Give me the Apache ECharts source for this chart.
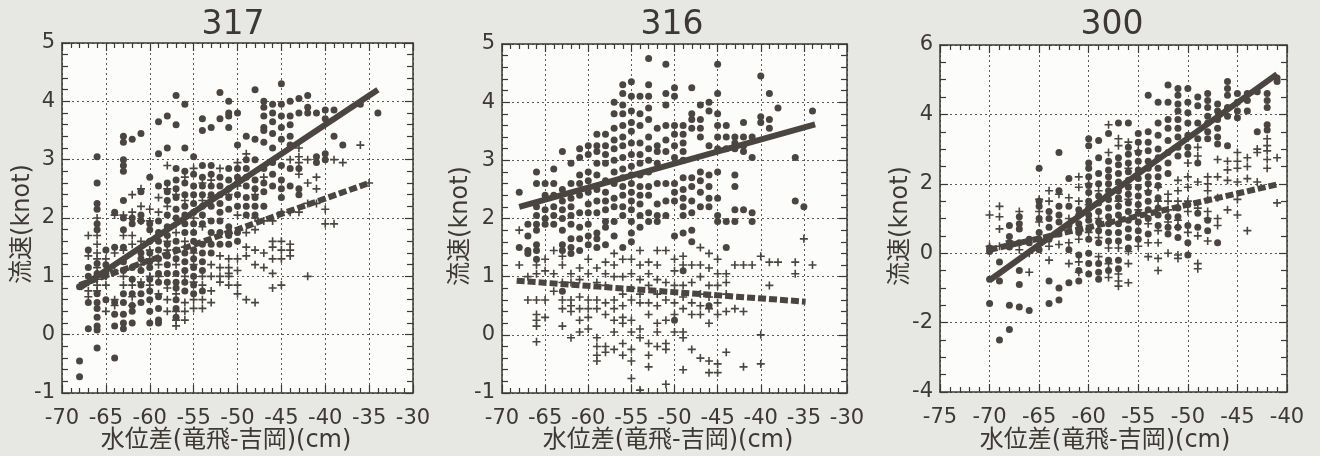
<!DOCTYPE html>
<html><head><meta charset="utf-8">
<script src="https://cdn.jsdelivr.net/npm/echarts@6/dist/echarts.min.js"></script>
<style>html,body{margin:0;padding:0;background:#e7e8e3;} #c{width:1320px;height:456px;}</style>
</head><body><div id="c"></div>
<script>
// ---------- text ----------
const titles = ['317', '316', '300'];
const xName = '水位差(竜飛-吉岡)(cm)';
const yName = '流速(knot)';

// ---------- axis ranges ----------
const xRange12 = [-70, -30, 5];
const yRange12 = [-1, 5, 1];
const xRange3 = [-75, -40, 5];
const yRange3 = [-4, 6, 2];

// ---------- 317 : columns [x, [y...]] ----------
const p317DotCols = [
  [-68, [0.82, -0.45, -0.72]],
  [-67, [1.45, 1.15, 1.0, 0.55, 0.1]],
  [-66, [3.05, 2.6, 2.25, 2.15, 1.9, 1.8, 1.22, 1.05, 0.7, 0.55, 0.45, 0.3, 0.15, 0.08, -0.23]],
  [-65, [1.45, 1.2, 1.05, 0.6]],
  [-64, [2.1, 1.5, 0.55, 0.35, 0.15, -0.4]],
  [-63, [3.4, 3.3, 3.0, 2.9, 2.8, 2.3, 2.0, 1.8, 1.5, 1.25, 1.1, 0.7, 0.55, 0.35, 0.2, 0.1]],
  [-62, [3.35, 2.0, 1.9, 1.15, 0.95, 0.7, 0.5, 0.4, 0.2]],
  [-61, [3.45, 2.45, 2.05, 1.95, 1.4, 1.3, 1.1, 0.85, 0.7, 0.55]],
  [-60, [2.7, 1.9, 1.8, 1.6, 1.4, 1.25, 1.15, 0.95, 0.75, 0.6, 0.4, 0.2]],
  [-59, [3.65, 3.1, 2.55, 1.95, 1.75, 1.6, 1.45, 1.3, 1.05, 0.9, 0.65, 0.45, 0.25, 0.2]],
  [-58, [3.75, 3.2, 2.6, 2.45, 2.3, 2.05, 1.85, 1.7, 1.55, 1.35, 1.2, 1.05, 0.9]],
  [-57, [4.1, 3.6, 2.85, 2.65, 2.5, 2.35, 2.15, 2.0, 1.6, 1.45, 1.3, 1.05, 0.9, 0.8, 0.6, 0.45, 0.3]],
  [-56, [3.95, 3.2, 2.8, 2.6, 2.4, 2.2, 2.05, 1.9, 1.75, 1.4, 1.25, 1.1, 0.9, 0.75]],
  [-55, [3.05, 2.75, 2.55, 2.4, 2.25, 2.1, 1.9, 1.75, 1.6, 1.45, 1.3, 1.15, 1.0, 0.85, 0.7]],
  [-54, [3.7, 3.5, 2.9, 2.7, 2.55, 2.4, 2.2, 2.05, 1.9, 1.55, 1.4, 1.25, 1.1, 0.75]],
  [-53, [3.55, 2.9, 2.75, 2.55, 2.4, 2.2, 1.95, 1.75, 1.55, 1.4]],
  [-52, [4.15, 3.7, 2.7, 2.55, 2.4, 2.25, 2.1, 1.95, 1.75, 1.55]],
  [-51, [4.0, 3.8, 3.75, 3.55, 2.85, 2.65, 2.5, 2.35, 2.15, 1.85, 1.7, 1.55]],
  [-50, [3.8, 3.25, 2.85, 2.7, 2.6, 2.4, 2.2, 1.75, 1.6]],
  [-49, [3.4, 3.0, 2.85, 2.7, 2.55, 2.35, 2.2, 2.05]],
  [-48, [4.2, 3.35, 3.0, 2.65, 2.5, 2.35, 2.2, 2.05]],
  [-47, [4.0, 3.9, 3.75, 3.55, 3.5, 3.3, 2.85, 2.6, 2.45, 2.2]],
  [-46, [3.95, 3.8, 3.65, 3.45, 3.2, 2.95, 2.75, 2.55]],
  [-45, [4.3, 3.95, 3.75, 3.55, 3.35, 2.9, 2.65, 2.5, 2.35]],
  [-44, [4.0, 3.75, 3.6, 3.4, 3.25, 2.85, 2.55]],
  [-43, [4.05, 3.8, 2.85, 2.5, 2.4]],
  [-42, [4.1, 3.9, 3.8]],
  [-41, [3.8, 3.05, 2.95]],
  [-40, [3.85, 3.7, 3.1, 3.0]],
  [-39, [3.85, 3.4]],
  [-38, [3.25]],
  [-36, [3.95]],
  [-34, [3.8]]
];
const p317PlusCols = [
  [-67, [1.7, 1.35, 0.9, 0.75, 0.65]],
  [-66, [2.0, 1.7, 1.55, 1.4, 1.3, 1.15, 0.95, 0.85, 0.75]],
  [-65, [1.3, 1.0, 0.85, 0.4]],
  [-64, [2.05, 1.4, 1.1, 0.6, 0.5]],
  [-63, [2.05, 1.7, 1.45, 1.0, 0.85]],
  [-62, [2.4, 2.1, 1.7, 1.55, 0.85, 0.65, 0.5]],
  [-61, [2.5, 2.2, 1.95, 1.6, 1.2, 0.9]],
  [-60, [2.15, 1.95, 1.45, 1.3, 1.0, 0.85]],
  [-59, [2.35, 2.1, 1.7, 1.2, 1.0, 0.7]],
  [-58, [2.9, 2.5, 2.2, 1.6, 1.45, 0.8, 0.6, 0.4]],
  [-57, [2.4, 1.9, 1.75, 1.2, 0.7, 0.4, 0.25, 0.15]],
  [-56, [2.7, 2.3, 1.6, 1.5, 1.0, 0.55, 0.4, 0.25]],
  [-55, [2.85, 2.0, 1.4, 1.2, 0.9, 0.6, 0.45]],
  [-54, [2.6, 2.3, 1.85, 1.0, 0.85, 0.6, 0.45]],
  [-53, [2.65, 2.35, 1.2, 1.0, 0.75, 0.55]],
  [-52, [2.85, 1.35, 1.15, 1.0, 0.9]],
  [-51, [2.4, 1.3, 1.15, 1.05, 1.0, 0.85]],
  [-50, [2.95, 2.55, 2.05, 1.3, 1.1, 0.85, 0.7]],
  [-49, [3.1, 1.75, 1.5, 1.35, 0.6]],
  [-48, [2.4, 2.0, 1.8, 1.45, 1.2, 0.55]],
  [-47, [2.7, 1.95, 1.4, 1.15]],
  [-46, [1.95, 1.6, 1.5, 1.3, 1.05, 0.8]],
  [-45, [2.1, 1.6, 1.45, 1.3, 0.85]],
  [-44, [3.0, 2.1, 1.55, 1.45, 1.35]],
  [-43, [3.2, 3.05, 2.95, 2.75, 2.1]],
  [-42, [3.0, 2.6, 2.25, 1.0]],
  [-41, [2.7, 2.5, 2.25]],
  [-40, [2.15, 1.9]],
  [-39, [3.0, 1.9]],
  [-38, [2.95]],
  [-36, [3.25]],
  [-35, [2.6]]
];
const p317SolidLine = [[-68, 0.8], [-34, 4.2]];
const p317DashLine = [[-68, 0.85], [-35, 2.6]];

// ---------- 316 ----------
const p316DotCols = [
  [-68, [2.45, 1.5]],
  [-67, [1.9, 1.7, 1.45, 1.4]],
  [-66, [2.8, 2.6, 2.2, 2.05, 1.9, 1.8, 1.55, 1.45, 1.3]],
  [-65, [2.6, 2.4, 2.15, 2.0, 1.9]],
  [-64, [2.85, 2.6, 2.4, 2.2, 2.05, 1.9]],
  [-63, [3.15, 2.5, 2.3, 2.15, 2.0, 1.8, 1.55, 1.45, 0.75]],
  [-62, [2.95, 2.6, 2.35, 2.2, 2.05, 1.9, 1.65, 1.5, 1.4]],
  [-61, [3.2, 3.05, 2.75, 2.6, 2.4, 2.1, 1.85, 1.65, 1.45]],
  [-60, [3.25, 3.1, 2.8, 2.65, 2.45, 2.25, 2.1, 1.9, 1.7, 1.55]],
  [-59, [3.45, 3.25, 3.15, 2.95, 2.75, 2.5, 2.3, 2.1, 1.75, 1.65, 1.5]],
  [-58, [3.45, 3.25, 3.1, 2.95, 2.65, 2.45, 2.3, 2.15, 1.95, 1.85, 1.55]],
  [-57, [4.0, 3.8, 3.55, 3.35, 3.2, 3.0, 2.8, 2.6, 2.35, 2.2, 1.95, 1.7]],
  [-56, [4.3, 4.15, 3.95, 3.8, 3.6, 3.4, 3.25, 3.05, 2.85, 2.7, 2.55, 2.4, 2.2, 2.05, 1.5]],
  [-55, [4.35, 4.1, 3.85, 3.65, 3.5, 3.3, 3.1, 2.9, 2.75, 2.6, 2.45, 2.3, 2.15, 1.95, 1.75, 1.6]],
  [-54, [4.1, 3.8, 3.6, 3.3, 3.1, 2.95, 2.75, 2.55, 2.4, 2.25, 2.05, 1.85]],
  [-53, [4.75, 4.3, 4.1, 3.9, 3.7, 3.4, 3.2, 3.0, 2.8, 2.55, 2.4, 2.1, 1.95]],
  [-52, [3.55, 3.25, 3.15, 2.95, 2.6, 2.25, 2.05, 1.95]],
  [-51, [4.65, 4.15, 3.95, 3.6, 3.35, 3.15, 2.6, 2.3, 2.05]],
  [-50, [4.25, 4.1, 3.6, 3.45, 3.25, 3.05, 2.6, 2.45, 2.3, 1.7, 0.25]],
  [-49, [3.6, 3.45, 3.3, 3.15, 3.0, 2.7, 2.5, 2.35, 2.2, 2.05, 1.75, 1.1]],
  [-48, [4.25, 3.8, 3.7, 3.55, 2.7, 2.55, 2.3, 2.1, 1.8, 1.6]],
  [-47, [3.95, 3.7, 3.55, 3.4, 2.8, 2.65, 2.45, 2.2]],
  [-46, [4.0, 3.85, 3.25, 2.75, 2.55, 2.35, 2.2, 0.5]],
  [-45, [4.65, 4.15, 3.8, 3.6, 3.4, 3.2, 2.8, 2.35, 2.05, 1.95]],
  [-44, [3.6, 3.4, 3.2, 1.95, 1.5]],
  [-43, [3.4, 3.3, 3.2, 2.75, 2.55, 2.15, 1.95]],
  [-42, [3.65, 3.4, 3.25, 3.15, 2.15]],
  [-41, [3.4, 3.05, 2.1, 1.95]],
  [-40, [4.45, 3.75, 3.65]],
  [-39, [4.15, 3.7, 3.55]],
  [-38, [3.9]],
  [-36, [3.05, 2.3]],
  [-35, [2.2]],
  [-34, [3.85]]
];
const p316PlusCols = [
  [-68, [1.8, 1.2]],
  [-67, [1.0, 0.6]],
  [-66, [1.2, 1.05, 0.6, 0.35, 0.25, 0.15, -0.12]],
  [-65, [1.3, 1.1, 0.6, 0.3]],
  [-64, [1.45, 1.05, 0.75]],
  [-63, [1.35, 1.2, 0.9, 0.6, 0.45, 0.15]],
  [-62, [1.05, 0.9, 0.6, 0.5, 0.4, -0.05]],
  [-61, [1.15, 0.95, 0.65, 0.45, 0.25, 0.05]],
  [-60, [1.3, 1.05, 0.6, 0.45, 0.3, 0.1]],
  [-59, [1.15, 0.9, 0.6, 0.45, -0.05, -0.2, -0.35, -0.45]],
  [-58, [1.25, 1.05, 0.85, 0.55, 0.35, -0.2, -0.3]],
  [-57, [1.4, 1.2, 1.0, 0.6, 0.45, 0.25, 0.05, -0.25]],
  [-56, [1.3, 1.0, 0.7, 0.5, 0.3, 0.2, -0.15, -0.35]],
  [-55, [1.3, 1.05, 0.8, 0.6, 0.25, 0.05, -0.25, -0.45, -0.75]],
  [-54, [1.45, 1.2, 0.95, 0.7, 0.55, 0.1, -0.05, -0.95]],
  [-53, [1.25, 1.05, 0.85, 0.55, 0.35, -0.15, -0.35, -0.55]],
  [-52, [1.45, 1.2, 0.95, 0.7, 0.5, 0.2, 0.05, -0.2]],
  [-51, [1.45, 0.9, 0.6, 0.25, -0.15, -0.25, -0.85]],
  [-50, [1.3, 1.1, 0.85, 0.55, 0.35, 0.05]],
  [-49, [1.35, 1.2, 0.85, 0.65, 0.45, 0.05, -0.05, -0.6]],
  [-48, [1.2, 0.9, 0.55, 0.35, -0.25]],
  [-47, [1.5, 1.2, 1.0, 0.7, 0.5, 0.35, -0.4]],
  [-46, [1.4, 1.15, 0.85, 0.65, 0.45, 0.2, -0.45, -0.65]],
  [-45, [1.3, 1.05, 0.85, 0.55, 0.35, -0.5, -0.65]],
  [-44, [1.05, 0.9, 0.7, 0.4, -0.3]],
  [-43, [1.2, 0.45]],
  [-42, [1.2, 0.4, -0.55]],
  [-41, [1.2]],
  [-40, [1.35, 0.0, -0.5]],
  [-39, [1.25, 0.85]],
  [-38, [1.25]],
  [-36, [1.25, 1.05]],
  [-35, [1.65]],
  [-34, [1.2]]
];
const p316SolidLine = [[-68, 2.2], [-33.7, 3.62]];
const p316DashLine = [[-68.3, 0.93], [-34.8, 0.57]];

// ---------- 300 ----------
const p300DotCols = [
  [-70, [0.15, 0.05, -0.75, -1.45]],
  [-69, [-0.25, -0.8, -2.5]],
  [-68, [0.8, 0.48, 0.3, 0.18, -1.5, -2.2]],
  [-67, [1.05, 0.85, 0.7, 0.3, -0.5, -0.9, -1.55]],
  [-66, [0.4, 0.3, -1.65]],
  [-65, [2.45, 1.5, 1.35, 1.0, 0.6, 0.4, 0.1]],
  [-64, [1.2, 1.0, 0.75, 0.4, -0.8, -1.45]],
  [-63, [2.9, 1.8, 1.35, 1.1, 0.9, 0.55, -1.0, -1.35]],
  [-62, [2.15, 1.35, 0.8, 0.1, -0.85]],
  [-61, [1.25, 1.1, 0.85, 0.6, -0.05, -0.5, -0.8]],
  [-60, [3.3, 3.1, 2.6, 2.45, 2.2, 1.95, 1.75, 1.5, 1.3, 1.1, 0.95, 0.7, 0.4, 0.0, -0.3, -0.6]],
  [-59, [3.25, 2.75, 2.3, 2.0, 1.65, 1.45, 1.2, 0.9, 0.65, 0.3, -0.3, -0.55, -0.75]],
  [-58, [3.45, 2.65, 2.4, 2.2, 2.0, 1.8, 1.55, 1.3, 1.05, 0.85, 0.6, 0.35, -0.2, -0.5]],
  [-57, [3.75, 2.75, 2.55, 2.3, 2.05, 1.8, 1.6, 1.35, 1.1, 0.85, 0.6, 0.35, -0.2, -0.45]],
  [-56, [3.75, 3.05, 2.85, 2.6, 2.35, 2.1, 1.9, 1.7, 1.45, 1.2, 0.95, 0.7, 0.45, 0.15]],
  [-55, [3.45, 3.2, 2.9, 2.65, 2.4, 2.15, 1.9, 1.65, 1.4, 1.15, 0.9, 0.65, 0.4]],
  [-54, [4.55, 3.5, 3.2, 2.95, 2.65, 2.45, 2.2, 2.0, 1.75, 1.5, 1.25, 1.0, 0.55]],
  [-53, [4.35, 3.75, 3.4, 3.0, 2.75, 2.45, 2.2, 1.95, 1.6, 1.3, 1.1, 0.8]],
  [-52, [4.85, 4.35, 3.85, 3.6, 3.25, 2.9, 2.6, 2.3, 1.05, 0.75, 0.55]],
  [-51, [4.75, 4.55, 4.3, 4.1, 3.85, 3.6, 3.35, 3.05, 2.8, 1.3, 1.05, 0.75, 0.45]],
  [-50, [4.75, 4.35, 4.05, 3.75, 3.4, 3.05, 2.85, 1.4, 0.8, 0.3, -0.05]],
  [-49, [4.5, 4.25, 3.75, 3.3, 2.6, 1.15, 0.75]],
  [-48, [4.6, 4.4, 4.2, 3.95, 3.75, 3.5, 3.3, 0.95, 0.65]],
  [-47, [4.3, 4.1, 3.85, 3.6, 3.35, 3.15, 0.3]],
  [-46, [4.95, 4.75, 4.55, 4.2, 3.95, 3.1]],
  [-45, [4.6, 4.35, 4.1, 3.9]],
  [-44, [4.6, 4.4, 4.1]],
  [-43, [4.65, 3.5]],
  [-42, [4.6, 4.4, 4.2, 3.7, 3.55]],
  [-41, [5.05, 4.95]]
];
const p300PlusCols = [
  [-70, [1.1, 0.2]],
  [-69, [1.35, 1.05, 0.7, 0.2]],
  [-68, [0.35]],
  [-67, [1.2, 0.1]],
  [-66, [0.0, -0.55]],
  [-65, [1.55, 1.2, 0.9]],
  [-64, [1.8, 1.5, 0.2, -0.2]],
  [-63, [1.7, 0.25]],
  [-62, [1.6, 1.0, 0.3, -0.3]],
  [-61, [2.2, 1.9, 1.5, 0.4, -0.25, -0.55]],
  [-60, [2.0, 1.4, 0.6]],
  [-59, [1.8, 1.0, 0.45, -0.1]],
  [-58, [3.7, 2.9, 1.7, 0.15, -0.3, -0.7]],
  [-57, [3.3, 3.1, 1.5, 0.15, -0.6, -0.8, -0.95]],
  [-56, [3.2, 2.45, 1.55, 0.05, -0.3, -0.85]],
  [-55, [2.95, 1.25, 0.2]],
  [-54, [1.8, 0.85, 0.3, -0.1]],
  [-53, [1.9, 1.5, 0.65, 0.3, -0.15, -0.5]],
  [-52, [1.7, 1.5, 1.25, 0.9, 0.0]],
  [-51, [2.1, 1.8, 1.5, 0.95, 0.75, -0.15, -0.05]],
  [-50, [2.6, 2.2, 1.9, 1.5, 1.2, 0.6]],
  [-49, [3.05, 2.8, 2.05, 1.3, 0.5, -0.3, -0.45]],
  [-48, [2.2, 2.0, 1.8, 1.55, 1.2, 1.0, 0.35]],
  [-47, [2.7, 2.2, 1.6, 1.0, 0.8]],
  [-46, [2.65, 2.4, 2.1, 1.25]],
  [-45, [2.9, 2.65, 2.45, 2.05, 1.55, 1.1]],
  [-44, [2.75, 2.5, 2.15, 0.65]],
  [-43, [3.0, 2.9, 2.05]],
  [-42, [3.3, 3.1, 2.95, 2.7, 2.45]],
  [-41, [2.75, 1.45]]
];
const p300SolidLine = [[-70, -0.78], [-41, 5.16]];
const p300DashLine = [[-70, 0.1], [-41, 1.98]];

// ---------- rendering ----------
const FONT = "'DejaVu Sans', 'Noto Sans CJK JP', sans-serif";
const INK = '#3b3835';
const MARK = '#4a4541';
const PLUS = 'path://M4,0H6V4H10V6H6V10H4V6H0V4H4Z';

function flatten(cols) {
  const out = [];
  cols.forEach(c => c[1].forEach(y => out.push([c[0], y])));
  return out;
}

const grids = [
  {left: 62, top: 43, width: 351, height: 350},
  {left: 502, top: 44, width: 345, height: 349},
  {left: 940, top: 45, width: 347, height: 347}
];
const panels = [
  {xr: xRange12, yr: yRange12, yMinor: 5, dots: p317DotCols, plus: p317PlusCols, solid: p317SolidLine, dash: p317DashLine},
  {xr: xRange12, yr: yRange12, yMinor: 5, dots: p316DotCols, plus: p316PlusCols, solid: p316SolidLine, dash: p316DashLine},
  {xr: xRange3, yr: yRange3, yMinor: 4, dots: p300DotCols, plus: p300PlusCols, solid: p300SolidLine, dash: p300DashLine}
];
// label anchor points (title centre, x-name centre, y-name centre)
const titlePos = [[233, 25], [672, 25], [1112, 25]];
const xNamePos = [[226, 441], [668, 441], [1105, 441]];
const yNamePos = [[23, 224], [461, 226], [901, 226]];

const xAxis = [], yAxis = [], series = [], graphic = [];
panels.forEach((p, i) => {
  const common = {
    type: 'value',
    gridIndex: i,
    axisLine: {show: true, onZero: false, lineStyle: {color: INK, width: 1.5}},
    axisTick: {show: true, inside: true, length: 8, lineStyle: {color: INK, width: 1.2}},
    splitLine: {show: false}
  };
  const xc = Object.assign({}, common, {min: p.xr[0], max: p.xr[1], interval: p.xr[2],
    minorTick: {show: true, splitNumber: 5, length: 5, lineStyle: {color: INK, width: 1.2}}});
  const yc = Object.assign({}, common, {min: p.yr[0], max: p.yr[1], interval: p.yr[2],
    minorTick: {show: true, splitNumber: p.yMinor, length: 6, lineStyle: {color: INK, width: 1.2}}});
  xAxis.push(Object.assign({}, xc, {
    position: 'bottom',
    axisLabel: {color: INK, fontSize: 21, fontFamily: FONT, margin: 15},
    splitLine: {show: true, lineStyle: {color: '#5a5a5a', width: 1, type: [2, 3]}}
  }));
  xAxis.push(Object.assign({}, xc, {position: 'top', axisLabel: {show: false}}));
  yAxis.push(Object.assign({}, yc, {
    position: 'left',
    axisLabel: {color: INK, fontSize: 21, fontFamily: FONT, margin: 7},
    splitLine: {show: true, lineStyle: {color: '#5a5a5a', width: 1, type: [2, 3]}}
  }));
  yAxis.push(Object.assign({}, yc, {position: 'right', axisLabel: {show: false}}));

  const xi = 2 * i, yi = 2 * i;
  series.push({type: 'scatter', xAxisIndex: xi, yAxisIndex: yi, data: flatten(p.dots),
    symbol: 'circle', symbolSize: 7, itemStyle: {color: MARK, opacity: 1}, silent: true});
  series.push({type: 'scatter', xAxisIndex: xi, yAxisIndex: yi, data: flatten(p.plus),
    symbol: PLUS, symbolSize: 8, itemStyle: {color: MARK, opacity: 1}, silent: true});
  series.push({type: 'line', xAxisIndex: xi, yAxisIndex: yi, data: p.dash, symbol: 'none',
    lineStyle: {color: MARK, width: 6, type: [8, 3], cap: 'butt'}, silent: true});
  series.push({type: 'line', xAxisIndex: xi, yAxisIndex: yi, data: p.solid, symbol: 'none',
    lineStyle: {color: MARK, width: 6}, silent: true});

  graphic.push({type: 'text', x: titlePos[i][0], y: titlePos[i][1],
    style: {text: titles[i], fill: INK, font: "33px 'DejaVu Sans', sans-serif",
      align: 'center', verticalAlign: 'middle'}});
  graphic.push({type: 'text', x: xNamePos[i][0], y: xNamePos[i][1],
    style: {text: xName, fill: INK, font: "24px 'DejaVu Sans', 'Noto Sans CJK JP', sans-serif",
      align: 'center', verticalAlign: 'middle'}});
  graphic.push({type: 'text', x: yNamePos[i][0], y: yNamePos[i][1], rotation: Math.PI / 2,
    style: {text: yName, fill: INK, font: "24px 'DejaVu Sans', 'Noto Sans CJK JP', sans-serif",
      align: 'center', verticalAlign: 'middle'}});
});

const chart = echarts.init(document.getElementById('c'));
chart.setOption({
  animation: false,
  grid: grids.map(g => Object.assign({backgroundColor: '#fcfcfa', show: true, borderWidth: 0}, g)),
  xAxis, yAxis, series, graphic
});
</script>
</body></html>
